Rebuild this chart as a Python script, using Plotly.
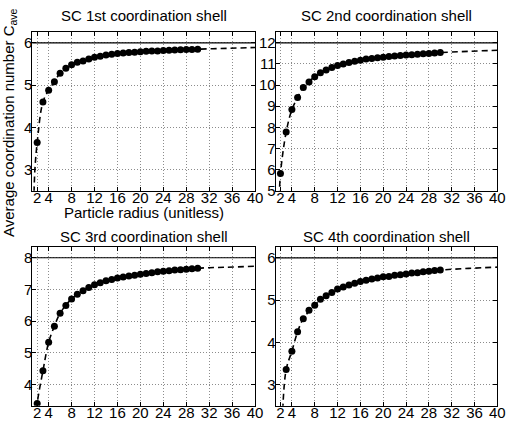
import plotly.graph_objects as go
from plotly.subplots import make_subplots

# particle radius of the computed points
radius = [2, 3, 4, 5, 6, 7, 8, 9, 10, 11, 12, 13, 14, 15, 16, 17, 18, 19, 20,
          21, 22, 23, 24, 25, 26, 27, 28, 29, 30]

titles = ["SC 1st coordination shell", "SC 2nd coordination shell",
          "SC 3rd coordination shell", "SC 4th coordination shell"]
bulk = [6, 12, 8, 6]   # bulk coordination number (solid line)

shell1 = [3.64, 4.60, 4.88, 5.08, 5.28, 5.40, 5.48, 5.54, 5.57, 5.62, 5.66, 5.68,
          5.71, 5.73, 5.75, 5.76, 5.77, 5.78, 5.79, 5.80, 5.805, 5.81, 5.82, 5.825,
          5.83, 5.835, 5.84, 5.845, 5.85]
shell2 = [5.81, 7.78, 8.84, 9.41, 9.89, 10.15, 10.39, 10.58, 10.71, 10.83, 10.93,
          11.00, 11.07, 11.13, 11.18, 11.23, 11.26, 11.29, 11.32, 11.35, 11.38,
          11.40, 11.42, 11.44, 11.46, 11.48, 11.50, 11.52, 11.54]
shell3 = [3.40, 4.43, 5.33, 5.84, 6.25, 6.49, 6.70, 6.85, 6.96, 7.06, 7.15, 7.21,
          7.27, 7.31, 7.36, 7.39, 7.42, 7.45, 7.48, 7.50, 7.53, 7.56, 7.57, 7.59,
          7.61, 7.62, 7.64, 7.65, 7.67]
# 4th shell: the r=2 point lies below the plotted range
shell4 = [None, 3.36, 3.79, 4.25, 4.56, 4.76, 4.88, 5.02, 5.10, 5.18, 5.26, 5.31,
          5.36, 5.40, 5.44, 5.47, 5.50, 5.52, 5.55, 5.56, 5.59, 5.60, 5.62, 5.64,
          5.65, 5.67, 5.68, 5.70, 5.71]

# dashed fitted curves
fit_r1 = [1.45, 1.6, 2, 3, 4, 5, 6, 8, 10, 12, 16, 20, 25, 30, 35, 40]
fit_c1 = [2.45, 3.0, 3.64, 4.60, 4.88, 5.08, 5.28, 5.48, 5.57, 5.66, 5.75, 5.79, 5.825, 5.85, 5.87, 5.89]
fit_r2 = [1.8, 2, 3, 4, 5, 6, 8, 10, 12, 16, 20, 25, 30, 35, 40]
fit_c2 = [4.7, 5.81, 7.78, 8.84, 9.41, 9.89, 10.39, 10.71, 10.93, 11.18, 11.32, 11.44, 11.54, 11.60, 11.65]
fit_r3 = [1.8, 2, 3, 4, 5, 6, 8, 10, 12, 16, 20, 25, 30, 35, 40]
fit_c3 = [2.9, 3.40, 4.43, 5.33, 5.84, 6.25, 6.70, 6.96, 7.15, 7.36, 7.48, 7.59, 7.67, 7.70, 7.73]
fit_r4 = [2.4, 3, 4, 5, 6, 8, 10, 12, 16, 20, 25, 30, 35, 40]
fit_c4 = [2.4, 3.36, 3.79, 4.25, 4.56, 4.88, 5.10, 5.26, 5.44, 5.55, 5.64, 5.71, 5.75, 5.78]

xticks = [2, 4, 8, 12, 16, 20, 24, 28, 32, 36, 40]
yranges = [[2.5, 6.25], [5, 12.5], [3.33, 8.33], [2.5, 6.25]]

shells = [shell1, shell2, shell3, shell4]
fits = [(fit_r1, fit_c1), (fit_r2, fit_c2), (fit_r3, fit_c3), (fit_r4, fit_c4)]

fig = make_subplots(rows=2, cols=2)
pos = [(1, 1), (1, 2), (2, 1), (2, 2)]
xdom = [[0.0612, 0.483], [0.522, 0.942]]
ydom = [[0.5555, 0.9247], [0.0543, 0.4236]]

for i in range(4):
    r, c = pos[i]
    fr, fc = fits[i]
    fig.add_trace(go.Scatter(x=[1, 40], y=[bulk[i], bulk[i]], mode='lines',
                             line=dict(color='black', width=1.2)), row=r, col=c)
    fig.add_trace(go.Scatter(x=fr, y=fc, mode='lines', line_shape='spline',
                             line=dict(color='black', width=1.6, dash='6px,4px')), row=r, col=c)
    fig.add_trace(go.Scatter(x=radius, y=shells[i], mode='markers',
                             marker=dict(color='black', size=7)), row=r, col=c)
    fig.update_xaxes(range=[1.15, 40], tickvals=xticks, domain=xdom[c - 1], row=r, col=c)
    fig.update_yaxes(range=yranges[i], dtick=1, domain=ydom[r - 1], row=r, col=c)

    fig.add_annotation(text=titles[i], xref='paper', yref='paper',
                       x=(xdom[c - 1][0] + xdom[c - 1][1]) / 2,
                       y=(429 - 15) / 429 if r == 1 else (429 - 236.5) / 429,
                       showarrow=False, xanchor='center', yanchor='middle',
                       font=dict(size=15))

fig.update_xaxes(showline=True, mirror='ticks', linecolor='black', linewidth=1,
                 ticks='inside', ticklen=4, tickcolor='black', automargin=False,
                 showgrid=True, gridcolor='#8c8c8c', griddash='1px,2px', gridwidth=1,
                 zeroline=False, ticklabelstandoff=-7,
                 tickfont=dict(size=15, color='black'))
fig.update_yaxes(showline=True, mirror='ticks', linecolor='black', linewidth=1,
                 ticks='inside', ticklen=4, tickcolor='black', automargin=False,
                 showgrid=True, gridcolor='#8c8c8c', griddash='1px,2px', gridwidth=1,
                 zeroline=False, ticklabelstandoff=-4,
                 tickfont=dict(size=15, color='black'))

fig.add_annotation(text="Particle radius (unitless)", xref='paper', yref='paper',
                   x=(xdom[0][0] + xdom[0][1]) / 2, y=(429 - 213) / 429,
                   showarrow=False, xanchor='center', yanchor='middle',
                   font=dict(size=15))
fig.add_annotation(text="Average coordination number C<sub>ave</sub>",
                   xref='paper', yref='paper', x=10 / 528, y=(429 - 123) / 429,
                   textangle=-90, showarrow=False, xanchor='center', yanchor='middle',
                   font=dict(size=15))

fig.update_layout(width=528, height=429, showlegend=False,
                  margin=dict(l=0, r=0, t=0, b=0),
                  paper_bgcolor='white', plot_bgcolor='white',
                  font=dict(family='Liberation Sans, Arial, sans-serif', color='black'))

# page body has a default margin; drop it so the figure sits at the window corner
fig.write_html("out.html", config={'displayModeBar': False},
               post_script="document.body.style.margin='0';")
